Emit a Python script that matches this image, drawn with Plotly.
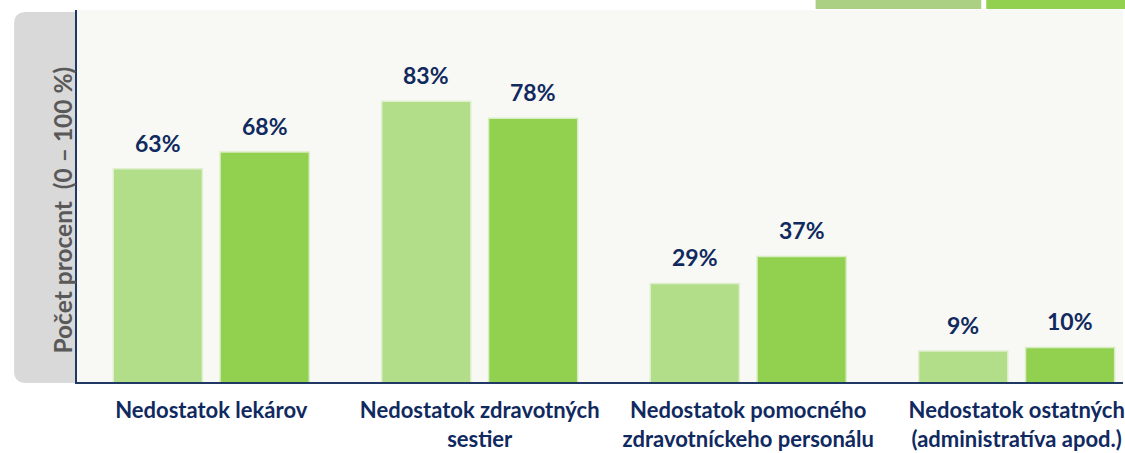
import plotly.graph_objects as go

# údaje z grafu
kategorie = ["Nedostatok lekárov",
             "Nedostatok zdravotných<br>sestier",
             "Nedostatok pomocného<br>zdravotníckeho personálu",
             "Nedostatok ostatných<br>(administratíva apod.)"]
rok_a = [63, 83, 29, 9]
rok_b = [68, 78, 37, 10]
popisky_a = ["63%", "83%", "29%", "9%"]
popisky_b = ["68%", "78%", "37%", "10%"]

W, H = 1125, 453
ML, MT, MB = 77, 10, 71
PW, PH = W - ML, H - MT - MB

def px_x(x):
    return (x - ML) / PW

def px_y(y):
    return (H - MB - y) / PH

navy = "#10295f"
font = "Lato"

fig = go.Figure()
fig.add_trace(go.Bar(
    x=kategorie, y=rok_a,
    marker=dict(color="#b3de89", line=dict(color="rgba(179,222,137,0.35)", width=3)),
    showlegend=False,
))
fig.add_trace(go.Bar(
    x=kategorie, y=rok_b,
    marker=dict(color="#92d050", line=dict(color="rgba(146,208,80,0.3)", width=3)),
    showlegend=False,
))

# popisky hodnôt nad stĺpcami
annotations = []
for kat, va, vb, ta, tb in zip(kategorie, rok_a, rok_b, popisky_a, popisky_b):
    for v, t, dx in ((va, ta, -53.5), (vb, tb, 53.5)):
        annotations.append(dict(x=kat, y=v, text=t, showarrow=False,
                                xshift=dx, yshift=27, yanchor="middle",
                                font=dict(family=font, size=23, color=navy, weight="bold")))

annotations.append(dict(text="Počet procent  (0 – 100 %)", textangle=-90,
                        xref="paper", yref="paper", x=px_x(45), y=px_y(210),
                        showarrow=False,
                        font=dict(family=font, size=24.5, color="#595959", weight="bold")))

# šedý panel s názvom osi y
x0, x1, y0, y1, r = 14, 77, 12, 383, 12
path = (f"M {px_x(x1)},{px_y(y0)} L {px_x(x0 + r)},{px_y(y0)} "
        f"Q {px_x(x0)},{px_y(y0)} {px_x(x0)},{px_y(y0 + r)} "
        f"L {px_x(x0)},{px_y(y1 - r)} Q {px_x(x0)},{px_y(y1)} {px_x(x0 + r)},{px_y(y1)} "
        f"L {px_x(x1)},{px_y(y1)} Z")
shapes = [dict(type="path", path=path, xref="paper", yref="paper",
               fillcolor="#d9d9d9", line=dict(width=0), layer="below")]

# orezaná legenda hore vpravo
shapes.append(dict(type="rect", xref="paper", yref="paper",
                   x0=px_x(817), x1=px_x(983), y0=px_y(9), y1=px_y(-2),
                   fillcolor="#abd083", line=dict(width=0)))
shapes.append(dict(type="rect", xref="paper", yref="paper",
                   x0=px_x(988), x1=px_x(1127), y0=px_y(9), y1=px_y(-2),
                   fillcolor="#92d050", line=dict(width=0)))

fig.update_layout(
    width=W, height=H,
    margin=dict(l=ML, r=0, t=MT, b=MB),
    barmode="group", bargap=0.204, bargroupgap=0.18,
    plot_bgcolor="#f8f9f4", paper_bgcolor="white",
    shapes=shapes, annotations=annotations,
)
fig.update_xaxes(range=[-0.5, 3.396], showline=True, linecolor="#1f3864", linewidth=1.5,
                 tickfont=dict(family=font, size=22, color=navy, weight="bold"),
                 ticks="", ticklabelstandoff=8)
fig.update_yaxes(range=[0, 110.3], showline=True, linecolor="#1f3864", linewidth=1.5,
                 showgrid=False, showticklabels=False, zeroline=False)

fig.write_html("out.html", config={"displayModeBar": False},
               post_script="document.body.style.margin='0';")
